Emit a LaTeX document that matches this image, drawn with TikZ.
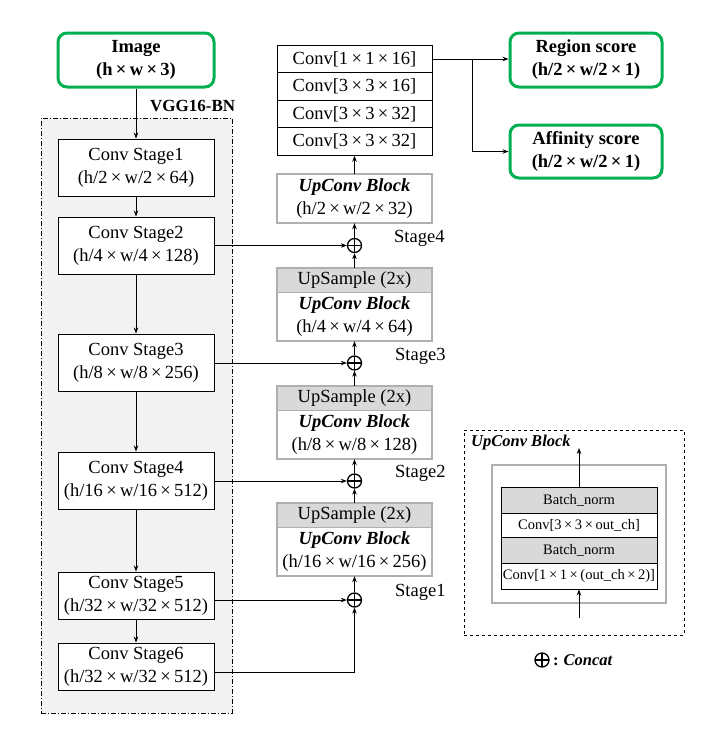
\documentclass[tikz,border=0pt]{standalone}
\usepackage{fontspec}
\setmainfont{Liberation Serif}
\usetikzlibrary{arrows.meta}
\definecolor{grn}{RGB}{0,176,80}
\definecolor{gbord}{RGB}{175,175,175}
\definecolor{ghead}{RGB}{217,217,217}
\definecolor{vggbg}{RGB}{242,242,242}
\newcommand{\X}{\hspace{0.18em}×\hspace{0.18em}}
\newcommand{\mainfs}{\fontsize{18.5}{23}\selectfont}
\newcommand{\legfs}{\fontsize{14.5}{17}\selectfont}
\tikzset{
  box/.style={draw, line width=0.9pt, fill=white, minimum width=156pt, inner sep=0pt, align=center, font=\mainfs},
  rbox/.style={box, minimum width=155pt},
  gbody/.style={fill=white, minimum width=155pt, inner sep=0pt, align=center, font=\mainfs},
  ghd/.style={gbody, fill=ghead, minimum height=25pt},
  gframe/.style={draw=gbord, line width=2pt},
  grbox/.style={draw=grn, line width=3pt, rounded corners=9pt, fill=white, inner sep=0pt, align=center, font=\mainfs\bfseries},
  arr/.style={-{Stealth[length=6pt,width=4.5pt]}, line width=0.9pt},
  ln/.style={line width=0.9pt},
  oplus/.style={circle, draw, fill=white, line width=1.3pt, minimum size=14pt, inner sep=0pt,
    path picture={\draw[line width=1.3pt] (path picture bounding box.north) -- (path picture bounding box.south)
      (path picture bounding box.west) -- (path picture bounding box.east);}},
  lab/.style={anchor=west, inner sep=0pt, font=\mainfs},
  lrow/.style={draw, line width=0.9pt, fill=white, minimum width=156pt, inner sep=0pt, font=\legfs},
  lhd/.style={lrow, fill=ghead}
}
\begin{document}
\begin{tikzpicture}[x=1pt,y=-1pt]
\useasboundingbox (0,0) rectangle (728,748);
\fill[white] (0,0) rectangle (728,748);

% VGG background
\node[draw, line width=0.9pt, dash pattern=on 5pt off 2pt on 1pt off 2pt, fill=vggbg, minimum width=191pt, minimum height=595pt, inner sep=0pt] (vgg) at (136.5,415.5) {};
\node[anchor=west, inner sep=0pt, font=\fontsize{17}{20}\selectfont\bfseries] (vgglab) at (150,106) {VGG16-BN};

% Input
\node[grbox, minimum width=156pt, minimum height=54pt] (img) at (136,60) {Image\\(h\X w\X 3)};

% VGG stages
\node[box, minimum height=57pt] (s1) at (136,167.5) {Conv Stage1\\(h/2\X w/2\X 64)};
\node[box, minimum height=57pt] (s2) at (136,245.5) {Conv Stage2\\(h/4\X w/4\X 128)};
\node[box, minimum height=57pt] (s3) at (136,362.5) {Conv Stage3\\(h/8\X w/8\X 256)};
\node[box, minimum height=57pt] (s4) at (136,480.5) {Conv Stage4\\(h/16\X w/16\X 512)};
\node[box, minimum height=47pt] (s5) at (136,595.5) {Conv Stage5\\(h/32\X w/32\X 512)};
\node[box, minimum height=47pt] (s6) at (136,666.5) {Conv Stage6\\(h/32\X w/32\X 512)};

\draw[arr] (img) -- (s1);
\draw[arr] (s1) -- (s2);
\draw[arr] (s2) -- (s3);
\draw[arr] (s3) -- (s4);
\draw[arr] (s4) -- (s5);
\draw[arr] (s5) -- (s6);

% Conv head stack
\node[rbox, minimum height=27.5pt] (r1) at (354.5,59) {Conv[1\X 1\X 16]};
\node[rbox, minimum height=27.5pt] (r2) at (354.5,86.5) {Conv[3\X 3\X 16]};
\node[rbox, minimum height=27.5pt] (r3) at (354.5,114) {Conv[3\X 3\X 32]};
\node[rbox, minimum height=27.5pt] (r4) at (354.5,141.5) {Conv[3\X 3\X 32]};

% UpConv top
\node[gbody, minimum height=49pt] (u4) at (354.5,198.5) {\textbf{\textit{UpConv Block}}\\(h/2\X w/2\X 32)};
\draw[gframe] (u4.north west) rectangle (u4.south east);

% UpSample blocks
\node[ghd] (u3h) at (354.5,280.5) {UpSample (2x)};
\node[gbody, minimum height=48pt] (u3b) at (354.5,317) {\textbf{\textit{UpConv Block}}\\(h/4\X w/4\X 64)};
\draw[gframe] (u3h.north west) rectangle (u3b.south east);
\draw[gbord, line width=1.2pt] (u3b.north west) -- (u3b.north east);

\node[ghd] (u2h) at (354.5,398.5) {UpSample (2x)};
\node[gbody, minimum height=48pt] (u2b) at (354.5,435) {\textbf{\textit{UpConv Block}}\\(h/8\X w/8\X 128)};
\draw[gframe] (u2h.north west) rectangle (u2b.south east);
\draw[gbord, line width=1.2pt] (u2b.north west) -- (u2b.north east);

\node[ghd] (u1h) at (354.5,515.5) {UpSample (2x)};
\node[gbody, minimum height=48pt] (u1b) at (354.5,552) {\textbf{\textit{UpConv Block}}\\(h/16\X w/16\X 256)};
\draw[gframe] (u1h.north west) rectangle (u1b.south east);
\draw[gbord, line width=1.2pt] (u1b.north west) -- (u1b.north east);

% Concat circles
\node[oplus] (c4) at (354.5,245.5) {};
\node[oplus] (c3) at (354.5,363) {};
\node[oplus] (c2) at (354.5,481) {};
\node[oplus] (c1) at (354.5,600) {};
\coordinate (j6) at (354.5,672);

\node[lab] (l4) at (394,238) {Stage4};
\node[lab] (l3) at (395,356) {Stage3};
\node[lab] (l2) at (395,473) {Stage2};
\node[lab] (l1) at (395,592) {Stage1};

% Skip connections
\draw[arr] (s2.east |- c4) -- (c4);
\draw[arr] (s3.east |- c3) -- (c3);
\draw[arr] (s4.east |- c2) -- (c2);
\draw[arr] (s5.east |- c1) -- (c1);
\draw[arr] (s6.east |- j6) -- (j6) -- (c1);

% Vertical decoder flow
\draw[arr] (c1) -- (u1b.south);
\draw[arr] (u1h.north) -- (c2);
\draw[arr] (c2) -- (u2b.south);
\draw[arr] (u2h.north) -- (c3);
\draw[arr] (c3) -- (u3b.south);
\draw[arr] (u3h.north) -- (c4);
\draw[arr] (c4) -- (u4.south);
\draw[arr] (u4.north) -- (r4.south);

% Outputs
\node[grbox, minimum width=152pt, minimum height=54pt] (reg) at (586,60) {Region score\\(h/2\X w/2\X 1)};
\node[grbox, minimum width=152pt, minimum height=53pt] (aff) at (586,151.5) {Affinity score\\(h/2\X w/2\X 1)};
\coordinate (jr) at (472,59);
\draw[arr] (r1.east) -- (reg.west |- r1.east);
\draw[arr] (jr) |- (aff.west);

% Legend
\node[draw, line width=0.9pt, dashed, minimum width=220pt, minimum height=205pt, inner sep=0pt] (leg) at (574,532.5) {};
\node[anchor=west, inner sep=0pt, font=\fontsize{16.5}{20}\selectfont\bfseries\itshape] (legt) at (471,443) {UpConv Block};
\node[draw=gbord, line width=2pt, minimum width=174pt, minimum height=138pt, inner sep=0pt] (lgf) at (579,534) {};
\node[lhd, minimum height=26pt] (lb1) at (579,500) {Batch\_norm};
\node[lrow, minimum height=24pt] (lc1) at (579,525) {Conv[3\X 3\X out\_ch]};
\node[lhd, minimum height=26pt] (lb2) at (579,550) {Batch\_norm};
\node[lrow, minimum height=26pt] (lc2) at (579,576) {Conv[1\X 1\X (out\_ch\X 2)]};
\coordinate (lgout) at (579,448);
\coordinate (lgin) at (579,618);
\draw[arr] (lb1.north) -- (lgout);
\draw[arr] (lgin) -- (lc2.south);

\node[oplus, fill=none] (cc) at (542,660) {};
\node[anchor=west, inner sep=0pt, font=\fontsize{16.5}{20}\selectfont\bfseries] (cct) at (553,660) {:\hspace{0.3em}\textit{Concat}};
\end{tikzpicture}
\end{document}
